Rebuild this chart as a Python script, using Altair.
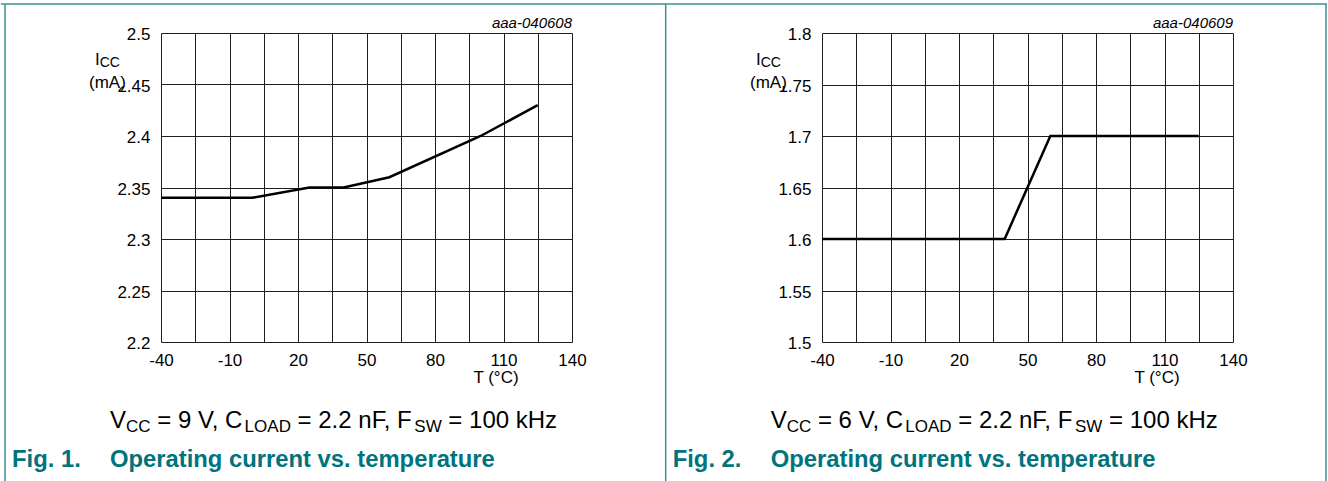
import altair as alt
import pandas as pd

# ---- measured operating current (mA) against junction temperature (°C) ----
temp_9v = [-40, 0, 25, 40, 60, 100, 125]
icc_9v = [2.34, 2.34, 2.35, 2.35, 2.36, 2.40, 2.43]
temp_6v = [-40, 40, 60, 125]
icc_6v = [1.60, 1.60, 1.70, 1.70]

# ---- axes ----
x_grid = [-40, -25, -10, 5, 20, 35, 50, 65, 80, 95, 110, 125, 140]
x_labels = [-40, -10, 20, 50, 80, 110, 140]
y_ticks_9v = [2.2, 2.25, 2.3, 2.35, 2.4, 2.45, 2.5]
y_ticks_6v = [1.5, 1.55, 1.6, 1.65, 1.7, 1.75, 1.8]

# ---- texts ----
fig_ids = ["aaa-040608", "aaa-040609"]
conditions = [
    [("V", 0), ("CC", 1), (" = 9 V, C", 0), ("LOAD", 1), (" = 2.2 nF, F", 0), ("SW", 1), (" = 100 kHz", 0)],
    [("V", 0), ("CC", 1), (" = 6 V, C", 0), ("LOAD", 1), (" = 2.2 nF, F", 0), ("SW", 1), (" = 100 kHz", 0)],
]
captions = [
    ("Fig. 1.", "Operating current vs. temperature"),
    ("Fig. 2.", "Operating current vs. temperature"),
]

FONT = "Liberation Sans"
TEAL_TEXT = "#00737d"
TEAL_LINE = "#3a9099"
GRID = "#1e1e1e"

PW, PH = 411, 309                  # plot area of each panel
ORIGINS = [(161, 33), (822, 33)]   # top-left of each plot area on the page
FRAME_LEFT = [5, 665.7]
FRAME_RIGHT = 1326

# Arial / Liberation Sans advance widths (1/1000 em) for laying out subscripts
ADV = {" ": 278, ",": 278, ".": 278, "=": 584, "A": 667, "C": 722, "D": 722,
       "F": 611, "H": 722, "L": 556, "O": 778, "S": 667, "V": 667, "W": 944,
       "k": 500, "n": 556, "z": 500}
for d in "0123456789":
    ADV[d] = 556


def width(s, size):
    return sum(ADV[c] for c in s) * size / 1000.0


ONE = alt.Data(values=[{"k": 0}])


def text(ox, oy, x, y, s, size, align="left", **kw):
    return alt.Chart(ONE).mark_text(
        text=s, font=FONT, fontSize=size, align=align, baseline="alphabetic", **kw
    ).encode(x=alt.value(x - ox), y=alt.value(y - oy))


def rule(ox, oy, x1, x2, y1, y2, color, w):
    return alt.Chart(ONE).mark_rule(color=color, strokeWidth=w).encode(
        x=alt.value(x1 - ox), x2=alt.value(x2 - ox),
        y=alt.value(y1 - oy), y2=alt.value(y2 - oy))


def box(ox, oy, x1, x2, y1, y2, **kw):
    return alt.Chart(ONE).mark_rect(**kw).encode(
        x=alt.value(x1 - ox), x2=alt.value(x2 - ox),
        y=alt.value(y1 - oy), y2=alt.value(y2 - oy))


def panel(i, temps, iccs, yticks):
    ox, oy = ORIGINS[i]
    df = pd.DataFrame({"T": temps, "Icc": iccs})
    label_list = ",".join(str(v) for v in x_labels)
    common = dict(grid=True, gridColor=GRID, gridWidth=1, gridOpacity=1,
                  domain=False, ticks=False, tickSize=0, title=None, zindex=0,
                  labelFont=FONT, labelFontSize=17, labelColor="black",
                  labelBaseline="alphabetic", labelFlush=False,
                  labelOverlap=False, labelBound=False)
    line = alt.Chart(df).mark_line(color="black", strokeWidth=2.5).encode(
        x=alt.X("T:Q",
                scale=alt.Scale(domain=[x_grid[0], x_grid[-1]], nice=False, zero=False),
                axis=alt.Axis(values=x_grid, labelPadding=23.7,
                              labelExpr=f"indexof([{label_list}], datum.value) >= 0 ? toString(datum.value) : ''",
                              **common)),
        y=alt.Y("Icc:Q",
                scale=alt.Scale(domain=[yticks[0], yticks[-1]], nice=False, zero=False),
                axis=alt.Axis(values=yticks, format=".2~f", labelPadding=11,
                              labelOffset=6.5, **common)),
    )
    layers = [line]

    # axis titles; the unit label sits on a white patch over the tick label
    gx = ox - 161
    layers.append(box(ox, oy, gx + 88, gx + 129, 74, 86, color="white"))
    layers.append(text(ox, oy, gx + 89, 88, "(mA)", 17, color="black"))
    layers.append(text(ox, oy, gx + 95, 65, "I", 17, color="black"))
    layers.append(text(ox, oy, gx + 99.7, 67, "CC", 14, color="black"))
    layers.append(text(ox, oy, ox + PW, 28.3, fig_ids[i], 15, align="right",
                       fontStyle="italic", color="black"))
    layers.append(text(ox, oy, ox + 335, 382.5, "T (°C)", 17, align="center", color="black"))

    # test conditions with subscripts, laid out run by run
    x = FRAME_LEFT[i] + 105
    for s, sub in conditions[i]:
        size = 17 if sub else 24
        base = 431.7 if sub else 427.7
        lead = len(s) - len(s.lstrip(" "))
        x += width(" " * lead, size)
        body = s.strip(" ")
        layers.append(text(ox, oy, x, base, body, size, color="black"))
        x += width(s.lstrip(" "), size)

    # figure caption
    fig, cap = captions[i]
    layers.append(text(ox, oy, FRAME_LEFT[i] + 7, 467, fig, 23.8,
                       fontWeight="bold", color=TEAL_TEXT))
    layers.append(text(ox, oy, FRAME_LEFT[i] + 105, 467, cap, 23.8,
                       fontWeight="bold", color=TEAL_TEXT))

    # frame
    layers.append(rule(ox, oy, FRAME_LEFT[i], FRAME_LEFT[i], 4, 481, TEAL_LINE, 1.5))
    if i == 0:
        layers.append(box(ox, oy, 0, 1328, 0, 481, opacity=0))
        layers.append(rule(ox, oy, 1, 1327, 4, 4, TEAL_LINE, 1.5))
    else:
        layers.append(rule(ox, oy, FRAME_RIGHT, FRAME_RIGHT, 4, 481, TEAL_LINE, 1.5))

    return alt.layer(*layers).properties(width=PW, height=PH)


chart = alt.hconcat(
    panel(0, temp_9v, icc_9v, y_ticks_9v),
    panel(1, temp_6v, icc_6v, y_ticks_6v),
    spacing=ORIGINS[1][0] - ORIGINS[0][0] - PW,
    bounds="flush",
).properties(padding=0, background="white").configure_view(strokeWidth=0)

chart.save("out.html", embed_options={"renderer": "svg", "actions": False})
